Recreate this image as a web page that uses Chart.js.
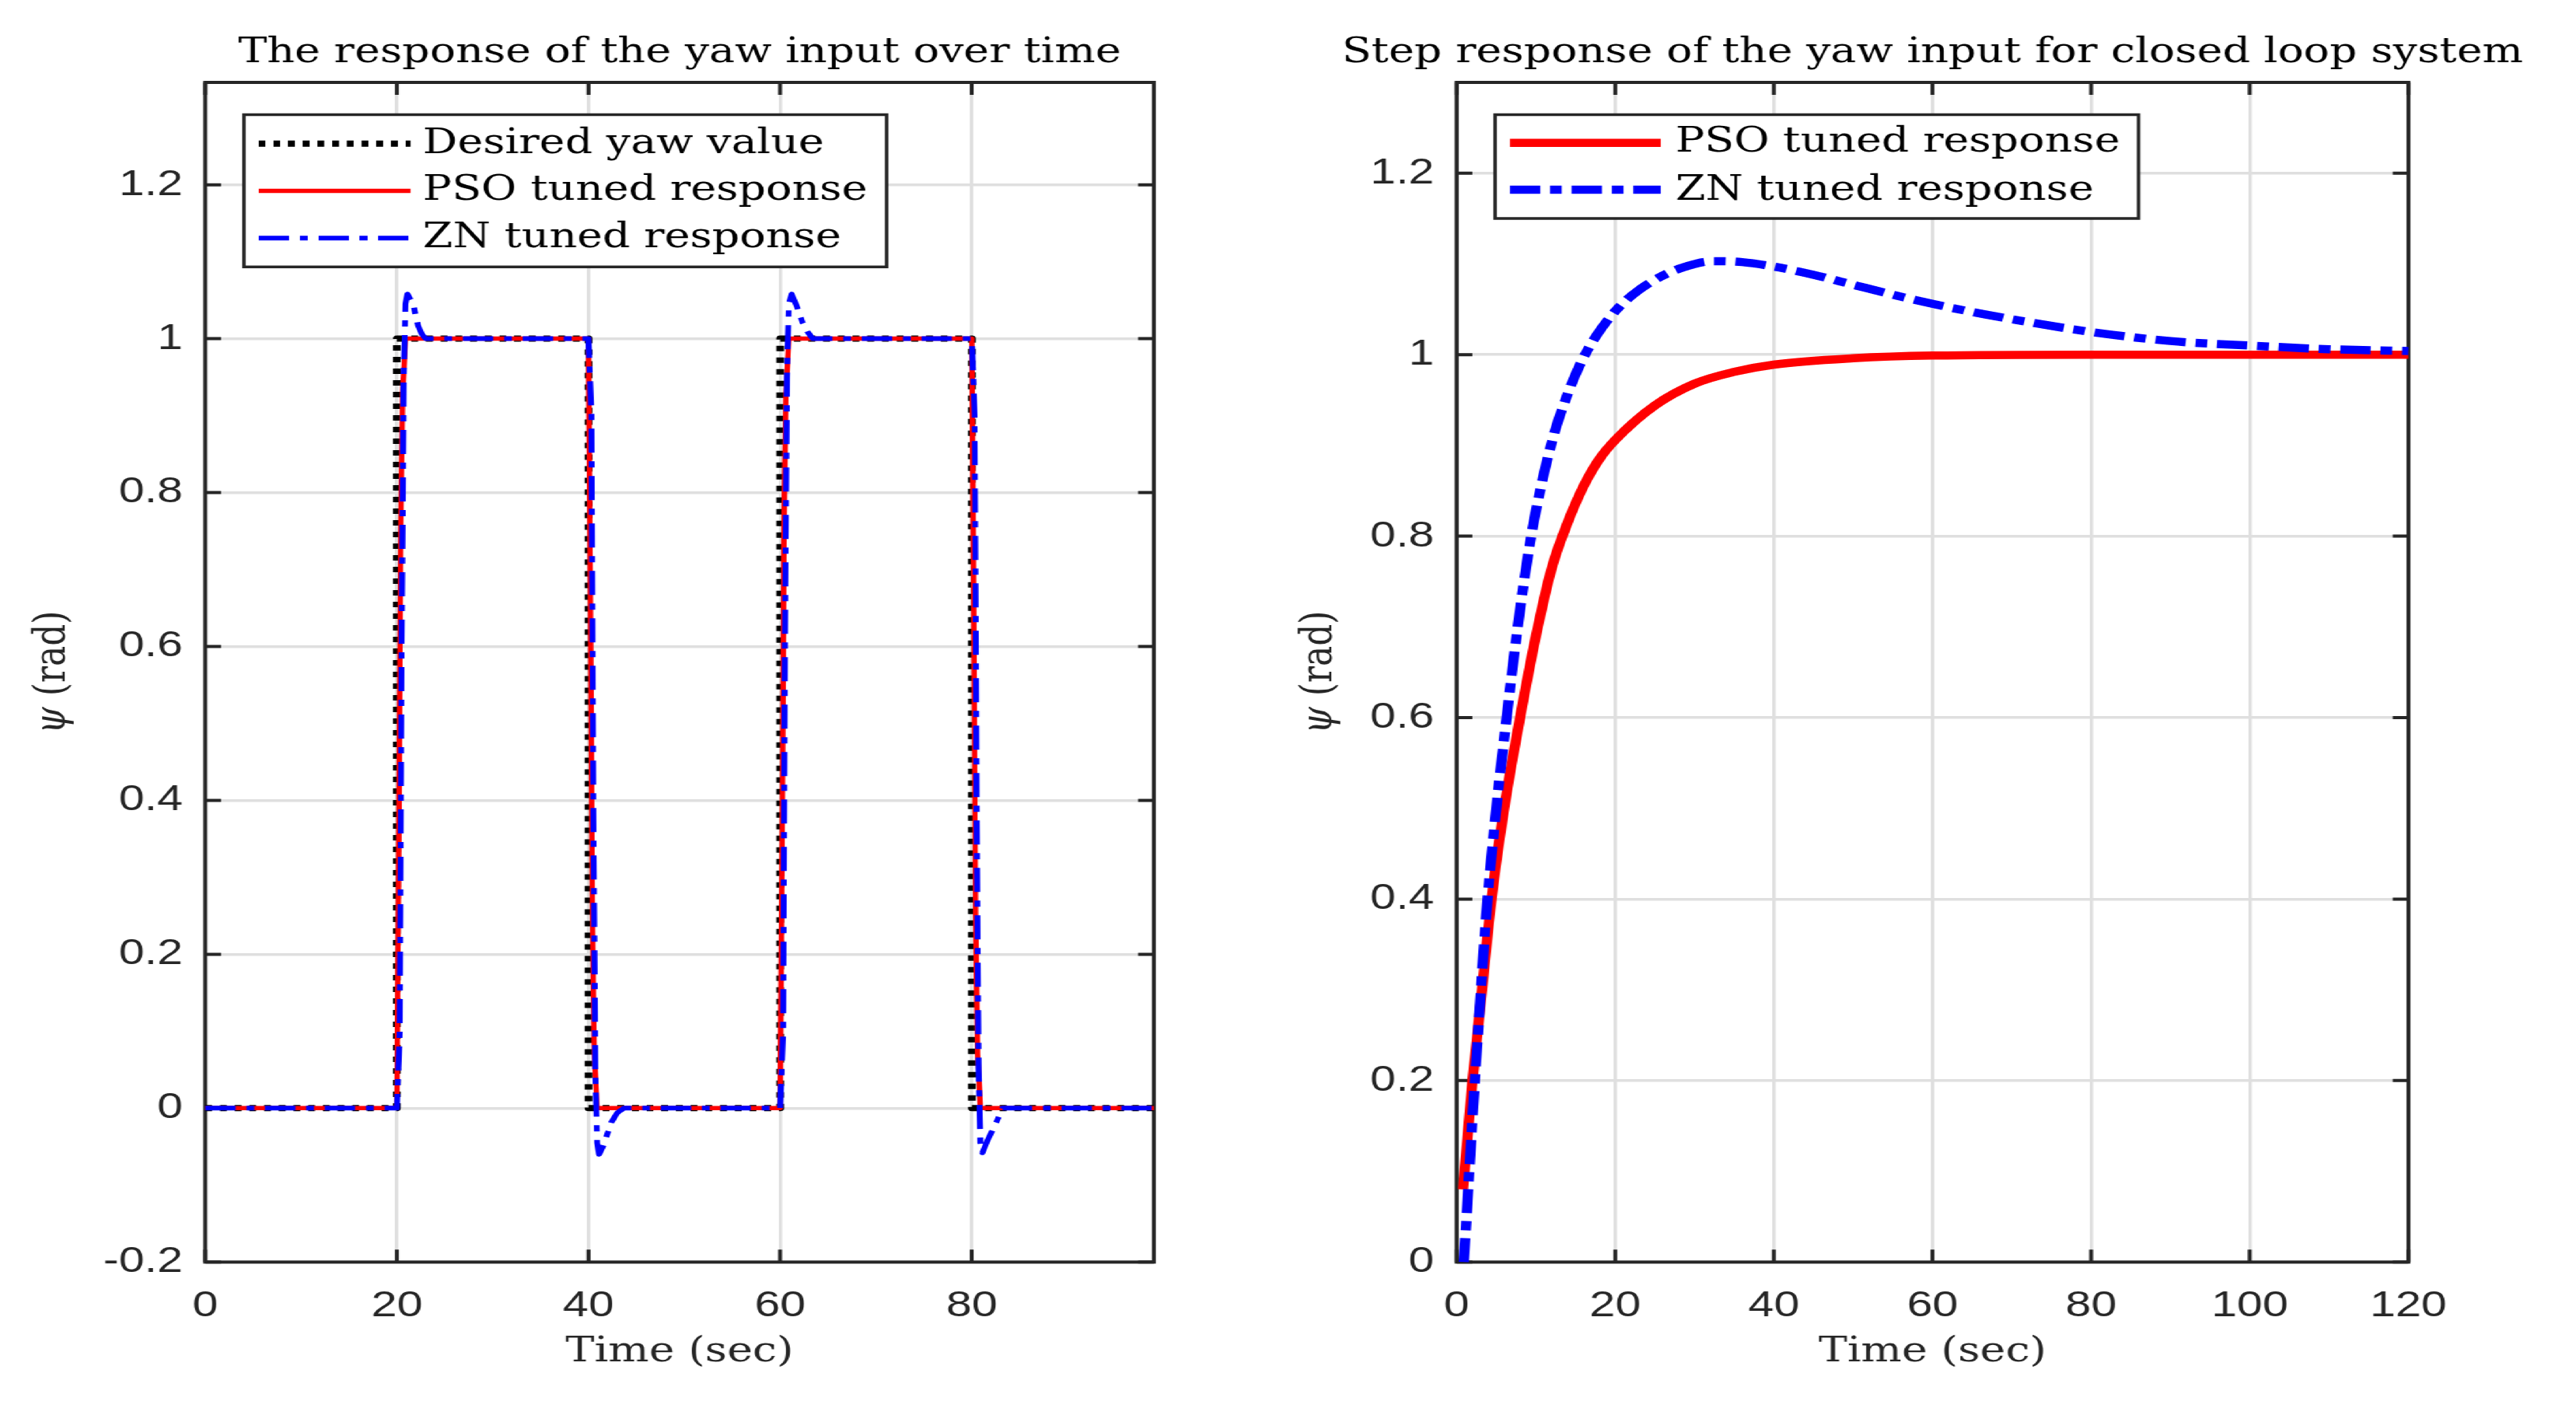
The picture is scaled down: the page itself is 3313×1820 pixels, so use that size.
<!DOCTYPE html>
<html>
<head>
<meta charset="utf-8">
<script src="https://cdn.jsdelivr.net/npm/chart.js@4.4.1/dist/chart.umd.min.js"></script>
<style>
  html, body { margin: 0; padding: 0; background: #fff; overflow: hidden; }
  /* the original figure is stretched sideways, so draw narrow and scale x */
  #fig { position: absolute; left: 0; top: 0; width: 2630px; height: 1820px; transform: scaleX(1.26); transform-origin: 0 0; }
  #fig canvas { position: absolute; top: 0; }
</style>
</head>
<body>
<div id="fig">
  <canvas id="yawLeft" width="1317" height="1820" style="left:0px"></canvas>
  <canvas id="yawRight" width="1312" height="1820" style="left:1317.46px"></canvas>
</div>
<script>
const AXIS = '#262626', GRID = '#dfdfdf';
const SERIF = 'DejaVu Serif', SANS = 'Liberation Sans';
const SERIF_SIZE = 44;

// left panel: square wave command and tracked responses
const tDesired = [0, 20, 20, 40, 40, 60, 60, 80, 80, 99];
const yDesired = [0, 0, 1, 1, 0, 0, 1, 1, 0, 0];
const tPsoWave = [0, 20, 20.2, 20.4, 20.6, 20.9, 40, 40.2, 40.4, 40.6, 40.9, 60, 60.2, 60.4, 60.6, 60.9, 80, 80.2, 80.4, 80.6, 80.9, 99];
const yPsoWave = [0, 0, 0.35, 0.75, 0.93, 1, 1, 0.65, 0.25, 0.07, 0, 0, 0.35, 0.75, 0.93, 1, 1, 0.65, 0.25, 0.07, 0, 0];
const tZnWave = [0, 20, 20.3, 20.5, 20.7, 20.9, 21.1, 21.7, 22.2, 22.6, 23.0,
                 40, 40.3, 40.5, 40.7, 40.9, 41.1, 41.5, 42.4, 43.0, 43.7,
                 60, 60.3, 60.5, 60.7, 60.9, 61.2, 61.8, 62.3, 62.9, 63.4,
                 80, 80.3, 80.5, 80.7, 80.9, 81.1, 81.6, 82.6, 83.2, 99];
const yZnWave = [0, 0, 0.1, 0.6, 0.95, 1.045, 1.058, 1.045, 1.017, 1.006, 1,
                 1, 0.9, 0.4, 0.05, -0.045, -0.06, -0.05, -0.018, -0.006, 0,
                 0, 0.1, 0.6, 0.95, 1.045, 1.058, 1.04, 1.022, 1.008, 1,
                 1, 0.9, 0.4, 0.05, -0.045, -0.058, -0.043, -0.017, 0, 0];
const xTicksLeft = ['0', '20', '40', '60', '80'];
const yTicksLeft = ['-0.2', '0', '0.2', '0.4', '0.6', '0.8', '1', '1.2'];

// right panel: closed loop step response
const tPsoStep = [0.8, 2, 3.2, 4.4, 6, 8, 10, 12, 14, 16, 18, 20, 25, 30, 35, 40, 50, 60, 80, 100, 120];
const yPsoStep = [0.08, 0.2, 0.3, 0.4, 0.5, 0.6, 0.69, 0.765, 0.815, 0.855, 0.885, 0.906, 0.944, 0.968, 0.981, 0.989, 0.996, 0.999, 1, 1, 1];
const tZnStep = [0.9, 2.3, 3.8, 5.0, 6.3, 7.7, 9.2, 10.7, 12.2, 13.8, 15.5, 17.4, 19.7, 22.2, 25.3, 28.5, 32.4, 36, 40, 45, 50, 55, 60, 65, 70, 80, 90, 100, 110, 120];
const yZnStep = [0, 0.2, 0.39, 0.5, 0.6, 0.7, 0.79, 0.857, 0.91, 0.952, 0.988, 1.018, 1.045, 1.066, 1.084, 1.096, 1.103, 1.102, 1.097, 1.088, 1.077, 1.066, 1.056, 1.047, 1.039, 1.025, 1.015, 1.01, 1.006, 1.004];
const xTicksRight = ['0', '20', '40', '60', '80', '100', '120'];
const yTicksRight = ['0', '0.2', '0.4', '0.6', '0.8', '1', '1.2'];

const pts = (t, y) => t.map((v, i) => ({x: v, y: y[i]}));

// matlab-like box, inner ticks, title, rotated y label and boxed legend
const frame = {
    id: 'frame',
    beforeDatasetsDraw(chart, args, o) {
        const {ctx, chartArea: a, scales: {x, y}} = chart;
        ctx.save();
        ctx.strokeStyle = AXIS; ctx.lineWidth = 4;
        ctx.beginPath();
        x.ticks.forEach(t => { const p = x.getPixelForValue(t.value); ctx.moveTo(p, a.bottom); ctx.lineTo(p, a.bottom - 16); ctx.moveTo(p, a.top); ctx.lineTo(p, a.top + 16); });
        y.ticks.forEach(t => { const p = y.getPixelForValue(t.value); ctx.moveTo(a.left, p); ctx.lineTo(a.left + 16, p); ctx.moveTo(a.right, p); ctx.lineTo(a.right - 16, p); });
        ctx.stroke();
        ctx.strokeRect(a.left, a.top, a.width, a.height);
        ctx.restore();
    },
    afterDraw(chart, args, o) {
        const {ctx, chartArea: a} = chart;
        const font = `${SERIF_SIZE}px "${SERIF}"`, italic = `italic ${SERIF_SIZE}px "${SERIF}"`;
        ctx.save();
        ctx.fillStyle = '#000'; ctx.textAlign = 'center'; ctx.textBaseline = 'alphabetic';
        ctx.font = font;
        ctx.fillText(o.title, (a.left + a.right) / 2, 80);

        ctx.save();
        ctx.translate(o.ylabelX, (a.top + a.bottom) / 2);
        ctx.rotate(-Math.PI / 2);
        ctx.fillStyle = AXIS; ctx.textAlign = 'left';
        ctx.font = italic;
        const w1 = ctx.measureText('ψ').width;
        ctx.font = font;
        const w2 = ctx.measureText(' (rad)').width;
        ctx.font = italic;
        ctx.fillText('ψ', -(w1 + w2) / 2, 0);
        ctx.font = font;
        ctx.fillText(' (rad)', -(w1 + w2) / 2 + w1, 0);
        ctx.restore();

        const L = o.legend;
        ctx.fillStyle = '#fff';
        ctx.fillRect(L.box[0], L.box[1], L.box[2] - L.box[0], L.box[3] - L.box[1]);
        ctx.strokeStyle = AXIS; ctx.lineWidth = 3.5;
        ctx.strokeRect(L.box[0], L.box[1], L.box[2] - L.box[0], L.box[3] - L.box[1]);
        ctx.textAlign = 'left';
        chart.data.datasets.forEach((ds, i) => {
            ctx.strokeStyle = ds.borderColor; ctx.lineWidth = ds.borderWidth;
            ctx.setLineDash(ds.borderDash || []);
            ctx.beginPath(); ctx.moveTo(L.sample[0], L.lineY[i]); ctx.lineTo(L.sample[1], L.lineY[i]); ctx.stroke();
            ctx.setLineDash([]);
            ctx.fillStyle = '#000'; ctx.font = font;
            ctx.fillText(ds.label, L.textX, L.baseY[i]);
        });
        ctx.restore();
    }
};

function makeChart(id, datasets, cfg) {
    return new Chart(document.getElementById(id), {
        type: 'line',
        data: {datasets},
        options: {
            responsive: false, animation: false, events: [],
            layout: {padding: {top: 106, right: cfg.padRight, bottom: 0, left: 0}},
            elements: {point: {radius: 0}, line: {fill: false, borderJoinStyle: 'round'}},
            plugins: {legend: {display: false}, tooltip: {enabled: false}, frame: cfg.frame},
            scales: {
                x: {
                    type: 'linear', min: cfg.xMin, max: cfg.xMax,
                    afterFit: s => { s.height = 196.7; },
                    grid: {color: GRID, lineWidth: 3.5, drawTicks: false}, border: {display: false},
                    ticks: {stepSize: 20, includeBounds: false, autoSkip: false, maxRotation: 0, padding: 28.5, color: AXIS,
                            font: {family: SANS, size: 47}, callback: (v, i) => cfg.xLabels[i]},
                    title: {display: true, text: 'Time (sec)', color: AXIS, font: {family: SERIF, size: SERIF_SIZE}, padding: {top: 0, bottom: 54}}
                },
                y: {
                    min: cfg.yMin, max: cfg.yMax,
                    afterFit: s => { s.width = cfg.areaLeft; },
                    grid: {color: GRID, lineWidth: 3.5, drawTicks: false}, border: {display: false},
                    ticks: {stepSize: 0.2, includeBounds: false, padding: 23, color: AXIS,
                            font: {family: SANS, size: 47}, callback: (v, i) => cfg.yLabels[i]}
                }
            }
        },
        plugins: [frame]
    });
}

makeChart('yawLeft', [
    {label: 'Desired yaw value', data: pts(tDesired, yDesired), borderColor: '#000000', borderWidth: 8, borderDash: [7, 8], tension: 0, clip: false, order: 3},
    {label: 'PSO tuned response', data: pts(tPsoWave, yPsoWave), borderColor: '#ff0000', borderWidth: 5.5, tension: 0, clip: false, order: 2},
    {label: 'ZN tuned response', data: pts(tZnWave, yZnWave), borderColor: '#0000ff', borderWidth: 6, borderDash: [31, 11, 8, 11], tension: 0, clip: false, order: 1}
], {
    padRight: 139.2, areaLeft: 209.52, xMin: 0, xMax: 99, yMin: -0.2, yMax: 1.333,
    xLabels: xTicksLeft, yLabels: yTicksLeft,
    frame: {
        title: 'The response of the yaw input over time', ylabelX: 66,
        legend: {box: [249, 147.5, 905, 343.3], sample: [264, 419], textX: 431.6, lineY: [184.7, 245.5, 306.3], baseY: [197, 257, 318]}
    }
});

makeChart('yawRight', [
    {label: 'PSO tuned response', data: pts(tPsoStep, yPsoStep), borderColor: '#ff0000', borderWidth: 10.5, cubicInterpolationMode: 'monotone', clip: false, order: 2},
    {label: 'ZN tuned response', data: pts(tZnStep, yZnStep), borderColor: '#0000ff', borderWidth: 10.5, borderDash: [31, 10, 12, 10], cubicInterpolationMode: 'monotone', clip: false, order: 1}
], {
    padRight: 170.73, areaLeft: 169.84, xMin: 0, xMax: 120, yMin: 0, yMax: 1.3,
    xLabels: xTicksRight, yLabels: yTicksRight,
    frame: {
        title: 'Step response of the yaw input for closed loop system', ylabelX: 41.8,
        legend: {box: [209.1, 147.5, 865.9, 281], sample: [224.2, 378.1], textX: 393.3, lineY: [183.7, 244], baseY: [195, 256.7]}
    }
});
</script>
</body>
</html>
